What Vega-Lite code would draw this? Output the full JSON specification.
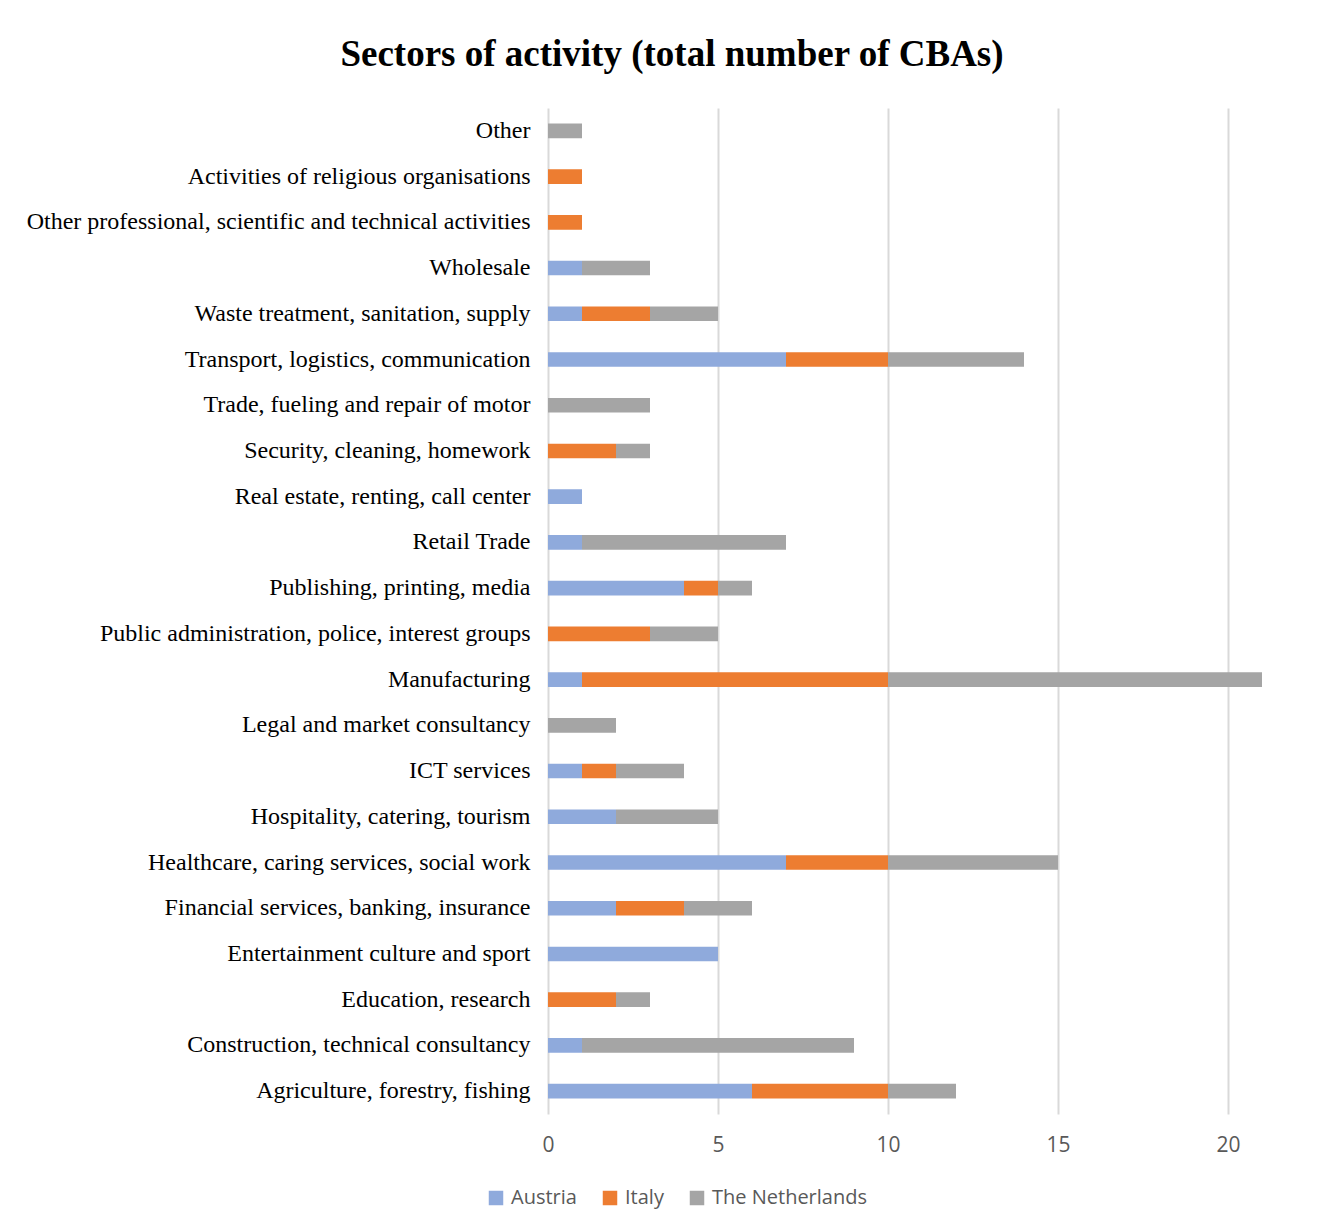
{
  "$schema": "https://vega.github.io/schema/vega-lite/v6.json",
  "width": 748,
  "height": 1006,
  "autosize": {"type": "none"},
  "padding": {"left": 548, "top": 108, "right": 28, "bottom": 115},
  "background": "white",
  "title": {
    "text": "Sectors of activity (total number of CBAs)",
    "font": "Liberation Serif",
    "fontSize": 37,
    "fontWeight": "bold",
    "color": "#000000",
    "anchor": "middle",
    "frame": "group",
    "dx": -250,
    "offset": 34
  },
  "data": {
    "values": [
      {"sector": "Other", "country": "The Netherlands", "n": 1},
      {"sector": "Activities of religious organisations", "country": "Italy", "n": 1},
      {"sector": "Other professional, scientific and technical activities", "country": "Italy", "n": 1},
      {"sector": "Wholesale", "country": "Austria", "n": 1},
      {"sector": "Wholesale", "country": "The Netherlands", "n": 2},
      {"sector": "Waste treatment, sanitation, supply", "country": "Austria", "n": 1},
      {"sector": "Waste treatment, sanitation, supply", "country": "Italy", "n": 2},
      {"sector": "Waste treatment, sanitation, supply", "country": "The Netherlands", "n": 2},
      {"sector": "Transport, logistics, communication", "country": "Austria", "n": 7},
      {"sector": "Transport, logistics, communication", "country": "Italy", "n": 3},
      {"sector": "Transport, logistics, communication", "country": "The Netherlands", "n": 4},
      {"sector": "Trade, fueling and repair of motor", "country": "The Netherlands", "n": 3},
      {"sector": "Security, cleaning, homework", "country": "Italy", "n": 2},
      {"sector": "Security, cleaning, homework", "country": "The Netherlands", "n": 1},
      {"sector": "Real estate, renting, call center", "country": "Austria", "n": 1},
      {"sector": "Retail Trade", "country": "Austria", "n": 1},
      {"sector": "Retail Trade", "country": "The Netherlands", "n": 6},
      {"sector": "Publishing, printing, media", "country": "Austria", "n": 4},
      {"sector": "Publishing, printing, media", "country": "Italy", "n": 1},
      {"sector": "Publishing, printing, media", "country": "The Netherlands", "n": 1},
      {"sector": "Public administration, police, interest groups", "country": "Italy", "n": 3},
      {"sector": "Public administration, police, interest groups", "country": "The Netherlands", "n": 2},
      {"sector": "Manufacturing", "country": "Austria", "n": 1},
      {"sector": "Manufacturing", "country": "Italy", "n": 9},
      {"sector": "Manufacturing", "country": "The Netherlands", "n": 11},
      {"sector": "Legal and market consultancy", "country": "The Netherlands", "n": 2},
      {"sector": "ICT services", "country": "Austria", "n": 1},
      {"sector": "ICT services", "country": "Italy", "n": 1},
      {"sector": "ICT services", "country": "The Netherlands", "n": 2},
      {"sector": "Hospitality, catering, tourism", "country": "Austria", "n": 2},
      {"sector": "Hospitality, catering, tourism", "country": "The Netherlands", "n": 3},
      {"sector": "Healthcare, caring services, social work", "country": "Austria", "n": 7},
      {"sector": "Healthcare, caring services, social work", "country": "Italy", "n": 3},
      {"sector": "Healthcare, caring services, social work", "country": "The Netherlands", "n": 5},
      {"sector": "Financial services, banking, insurance", "country": "Austria", "n": 2},
      {"sector": "Financial services, banking, insurance", "country": "Italy", "n": 2},
      {"sector": "Financial services, banking, insurance", "country": "The Netherlands", "n": 2},
      {"sector": "Entertainment culture and sport", "country": "Austria", "n": 5},
      {"sector": "Education, research", "country": "Italy", "n": 2},
      {"sector": "Education, research", "country": "The Netherlands", "n": 1},
      {"sector": "Construction, technical consultancy", "country": "Austria", "n": 1},
      {"sector": "Construction, technical consultancy", "country": "The Netherlands", "n": 8},
      {"sector": "Agriculture, forestry, fishing", "country": "Austria", "n": 6},
      {"sector": "Agriculture, forestry, fishing", "country": "Italy", "n": 4},
      {"sector": "Agriculture, forestry, fishing", "country": "The Netherlands", "n": 2}
    ]
  },
  "mark": {"type": "bar"},
  "encoding": {
    "y": {
      "field": "sector",
      "type": "nominal",
      "sort": [
        "Other",
        "Activities of religious organisations",
        "Other professional, scientific and technical activities",
        "Wholesale",
        "Waste treatment, sanitation, supply",
        "Transport, logistics, communication",
        "Trade, fueling and repair of motor",
        "Security, cleaning, homework",
        "Real estate, renting, call center",
        "Retail Trade",
        "Publishing, printing, media",
        "Public administration, police, interest groups",
        "Manufacturing",
        "Legal and market consultancy",
        "ICT services",
        "Hospitality, catering, tourism",
        "Healthcare, caring services, social work",
        "Financial services, banking, insurance",
        "Entertainment culture and sport",
        "Education, research",
        "Construction, technical consultancy",
        "Agriculture, forestry, fishing"
      ],
      "scale": {"paddingInner": 0.68, "paddingOuter": 0.34},
      "axis": {
        "title": null,
        "domain": false,
        "ticks": false,
        "grid": false,
        "labelFont": "Liberation Serif",
        "labelFontSize": 24,
        "labelColor": "#000000",
        "labelPadding": 18,
        "labelLimit": 600
      }
    },
    "x": {
      "field": "n",
      "type": "quantitative",
      "stack": "zero",
      "scale": {"domain": [0, 22], "nice": false},
      "axis": {
        "title": null,
        "values": [0, 5, 10, 15, 20],
        "domain": false,
        "ticks": false,
        "grid": true,
        "gridColor": "#d9d9d9",
        "gridWidth": 2,
        "labelFlush": false,
        "labelFont": "Open Sans",
        "labelFontSize": 21,
        "labelColor": "#595959",
        "labelPadding": 20
      }
    },
    "color": {
      "field": "country",
      "type": "nominal",
      "scale": {
        "domain": ["Austria", "Italy", "The Netherlands"],
        "range": ["#8faadc", "#ed7d31", "#a5a5a5"]
      },
      "legend": {
        "title": null,
        "orient": "none",
        "direction": "horizontal",
        "legendX": -62,
        "legendY": 1080,
        "symbolType": "square",
        "symbolSize": 210,
        "symbolStrokeWidth": 0,
        "labelFont": "Open Sans",
        "labelFontSize": 20,
        "labelColor": "#595959",
        "labelOffset": 5,
        "columnPadding": 23
      }
    }
  },
  "config": {
    "view": {"stroke": null}
  }
}
